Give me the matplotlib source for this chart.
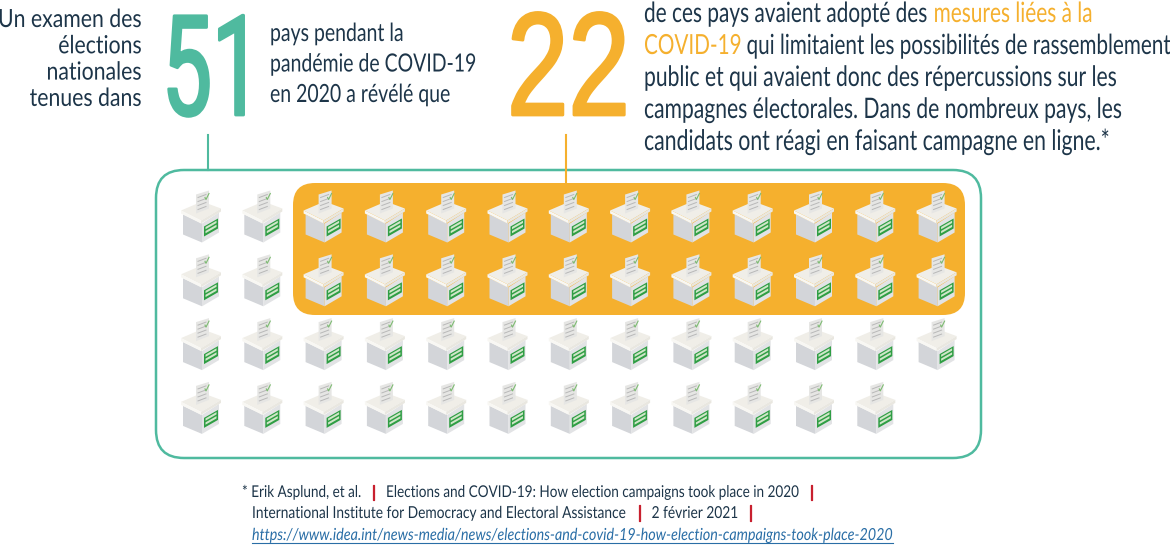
import matplotlib
matplotlib.use("Agg")
import matplotlib.pyplot as plt
from matplotlib.colors import to_rgb
from matplotlib.patches import FancyBboxPatch, Polygon
from matplotlib.text import Text
from matplotlib.textpath import TextPath
from matplotlib.transforms import Affine2D

plt.rcParams['font.family'] = ['Lato', 'Liberation Sans', 'DejaVu Sans']

# the data: one ballot box per country
row_counts = [13, 13, 13, 12]
total_label = "51"
restricted_label = "22"

intro_lines = ["Un examen des", "élections", "nationales", "tenues dans"]
middle_lines = ["pays pendant la", "pandémie de COVID-19", "en 2020 a révélé que"]
right_lines = [
    [("de ces pays avaient adopté des ", "navy"), ("mesures liées à la", "orange")],
    [("COVID-19", "orange"), (" qui limitaient les possibilités de rassemblement", "navy")],
    [("public et qui avaient donc des répercussions sur les", "navy")],
    [("campagnes électorales. Dans de nombreux pays, les", "navy")],
    [("candidats ont réagi en faisant campagne en ligne.*", "navy")],
]
right_sizes = [15.0, 14.9, 15.2, 15.2, 15.3]
source_lines = [
    [("* Erik Asplund, et al.   ", "navy"), ("|", "red"), ("   Elections and COVID-19: How election campaigns took place in 2020   ", "navy"), ("|", "red")],
    [("International Institute for Democracy and Electoral Assistance   ", "navy"), ("|", "red"), ("   2 février 2021   ", "navy"), ("|", "red")],
]
link = "https://www.idea.int/news-media/news/elections-and-covid-19-how-election-campaigns-took-place-2020"

colors = {"navy": "#1d3549", "orange": "#f5b02e", "teal": "#4fba9f", "red": "#c8202f"}

fig = plt.figure(figsize=(11.7, 5.51), dpi=100)
ax = fig.add_axes([0, 0, 1, 1])
ax.set_xlim(0, 1170)
ax.set_ylim(551, 0)
ax.axis('off')
renderer = fig.canvas.get_renderer()


class TallText(Text):
    # no condensed font is installed: keep the width of a small size, stretch the glyphs upward
    def __init__(self, *args, tall=1.0, edge=0.0, **kwargs):
        super().__init__(*args, **kwargs)
        self.tall = tall
        self.edge = edge

    def draw(self, renderer):
        if not self.get_visible() or not self.get_text():
            return
        path = TextPath((0, 0), self.get_text(), size=self.get_fontsize(),
                        prop=self.get_fontproperties())
        k = fig.dpi / 72
        x0 = self.get_window_extent(renderer).x0
        y0 = self.get_transform().transform(self.get_position())[1]
        tr = Affine2D().scale(k, k * self.tall).translate(x0, y0)
        gc = renderer.new_gc()
        gc.set_foreground(self.get_color())
        gc.set_linewidth(self.edge)
        renderer.draw_path(gc, path, tr, to_rgb(self.get_color()))
        gc.restore()


def tall_text(x, y, s, size, tall, color, ha='left', edge=0.0, **kw):
    t = TallText(x, y, s, color=color, fontsize=size, ha=ha, va='baseline', tall=tall, edge=edge, **kw)
    ax.add_artist(t)
    return t


def segments(x, y, parts, size, tall):
    # write coloured pieces one after the other on the same line
    for s, c in parts:
        edge = 0.9 if s == "|" else 0.0
        t = tall_text(x, y, s, size, tall, colors[c], edge=edge)
        x += t.get_window_extent(renderer).width


def ballot(cx, cy):
    def poly(pts, fc, z=3):
        ax.add_patch(Polygon([(cx + a, cy + b) for a, b in pts], closed=True, fc=fc, ec='none', zorder=z))
    poly([(-18, -3), (1, 6), (1, 25), (-18, 17)], "#d3d5d9")
    poly([(1, 6), (18, -5), (18, 15), (1, 25)], "#e2e3e5")
    poly([(-20, -7), (1, -16), (20, -9), (0, 3)], "#f0eee8")
    poly([(-20, -7), (0, 3), (0, 6), (-20, -4)], "#f8f7f3")
    poly([(0, 3), (20, -9), (20, -6), (0, 6)], "#e9e7e0")
    # ballot paper
    poly([(-5, -23), (8, -27), (8, -9), (-5, -4)], "#e6e6e4", 4)
    for k in range(4):
        ax.plot([cx - 3, cx + 5], [cy - 20 + k * 4, cy - 23 + k * 4], color="#b8b8b8", lw=0.7, zorder=5)
    ax.plot([cx + 4, cx + 5, cx + 8], [cy - 20, cy - 18, cy - 24], color="#7dbb72", lw=0.8, zorder=5)
    # green label
    poly([(3, 9), (17, 1), (17, 11), (3, 19)], "#2f9e44", 4)
    poly([(4.5, 9.5), (15.5, 3.2), (15.5, 5.5), (4.5, 11.8)], "#cfe6c8", 5)
    poly([(4.5, 13.5), (15.5, 7.2), (15.5, 9.5), (4.5, 15.8)], "#cfe6c8", 5)


# outer frame and highlighted block
ax.add_patch(FancyBboxPatch((156 + 28, 170 + 28), 825 - 56, 288 - 56,
                            boxstyle="round,pad=28,rounding_size=28",
                            fc='none', ec=colors["teal"], lw=1.8, zorder=1))
ax.add_patch(FancyBboxPatch((293 + 22, 183 + 22), 672 - 44, 132 - 44,
                            boxstyle="round,pad=22,rounding_size=22",
                            fc=colors["orange"], ec='none', zorder=2))
ax.plot([208, 208], [135, 170], color=colors["teal"], lw=1.5, zorder=1)
ax.plot([566, 566], [135, 183], color=colors["orange"], lw=1.5, zorder=2)

# ballot boxes
for row, n in enumerate(row_counts):
    for col in range(n):
        ballot(201 + col * 61.3, 217.5 + row * 63.8)

# headline numbers
tall_text(162, 115, total_label, 64, 1.57, colors["teal"], edge=2.0, family='Roboto')
tall_text(507, 115, restricted_label, 79.5, 1.33, colors["orange"], edge=2.0, family='Liberation Sans')

# text blocks
for i, s in enumerate(intro_lines):
    tall_text(142, 27 + i * 26.3, s, 15.3, 1.18, colors["navy"], ha='right')
for i, s in enumerate(middle_lines):
    tall_text(270, 41 + i * 30.5, s, 14, 1.29, colors["navy"])
for i, parts in enumerate(right_lines):
    segments(644, 22 + i * 32, parts, right_sizes[i], 1.34)

segments(242, 497, source_lines[0], 9.75, 1.2)
segments(252, 518, source_lines[1], 9.9, 1.2)
tall_text(252, 540, link, 10.3, 1.16, "#2a6ea6", style='italic')
ax.plot([252, 893], [543, 543], color="#2a6ea6", lw=0.8)

fig.savefig("out.png", dpi=100)
